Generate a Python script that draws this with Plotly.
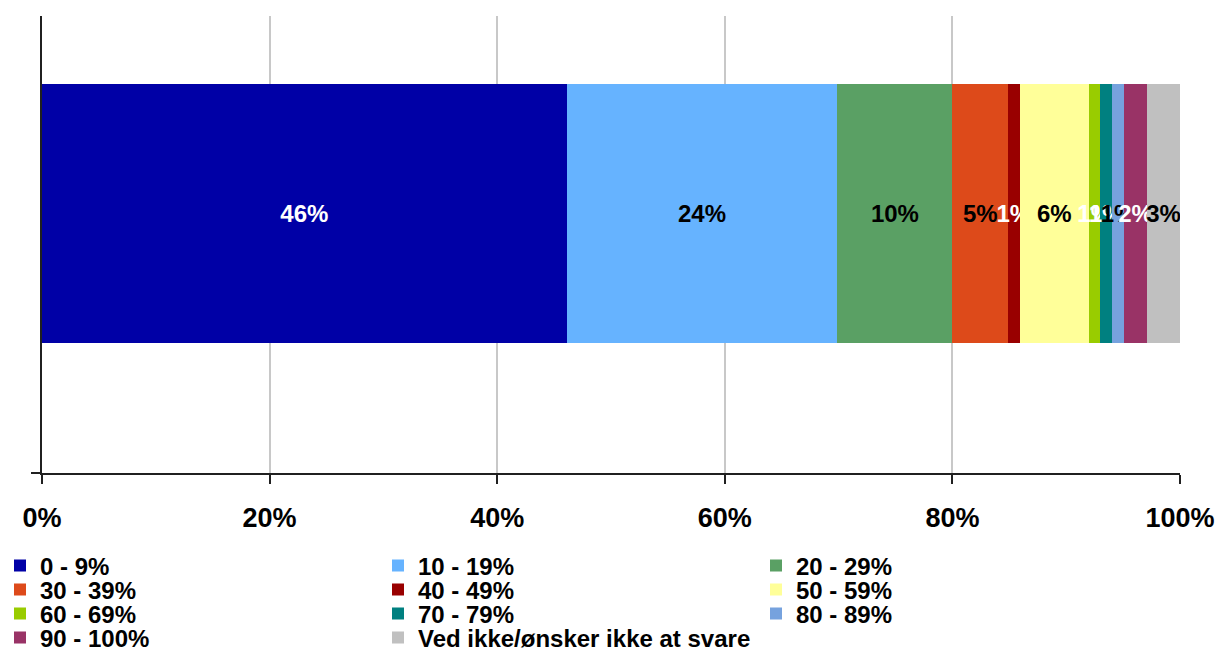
import plotly.graph_objects as go

categories = ["0 - 9%", "10 - 19%", "20 - 29%", "30 - 39%", "40 - 49%", "50 - 59%",
              "60 - 69%", "70 - 79%", "80 - 89%", "90 - 100%",
              "Ved ikke/ønsker ikke at svare"]
shares = [46.1, 23.8, 10.1, 4.9, 1.0, 6.1, 1.0, 1.0, 1.1, 2.0, 2.9]
colors = ["#0000A6", "#66B3FF", "#5AA064", "#DD4A1A", "#990000", "#FFFF99",
          "#99CC00", "#008080", "#76A2DE", "#993366", "#C0C0C0"]
label_colors = ["white", "black", "black", "black", "white", "black",
                "white", "white", "black", "white", "black"]
tick_values = [0, 20, 40, 60, 80, 100]
tick_labels = ["0%", "20%", "40%", "60%", "80%", "100%"]

FONT = "Liberation Sans, Arial, sans-serif"
W, H = 1219, 651

# legend rows: 3 entries per row, one legend object per row
legend_ids = ["legend", "legend2", "legend3", "legend4"]
row_centers = [566, 590, 614, 638]

fig = go.Figure()
for i, (name, val) in enumerate(zip(categories, shares)):
    fig.add_trace(go.Bar(
        x=[val], y=[0], name=name, orientation="h", width=0.6,
        marker=dict(color=colors[i], line=dict(width=0)),
        text=[f"{val:.0f}%"], textposition="inside", insidetextanchor="middle",
        textangle=0, constraintext="none",
        textfont=dict(family=FONT, size=24, color=label_colors[i], weight="bold"),
        legend=legend_ids[i // 3],
        hoverinfo="skip",
    ))

legend_layout = {}
for k, lid in enumerate(legend_ids):
    legend_layout[lid] = dict(
        orientation="h", xref="container", yref="container",
        x=0, xanchor="left", y=(H - row_centers[k]) / H, yanchor="middle",
        entrywidth=333, entrywidthmode="pixels", itemwidth=30,
        font=dict(family=FONT, size=24, color="black", weight="bold"),
        bgcolor="rgba(0,0,0,0)", traceorder="normal", itemclick=False,
    )

fig.update_layout(
    width=W, height=H,
    barmode="stack",
    plot_bgcolor="white", paper_bgcolor="white",
    margin=dict(l=42, r=39, t=16, b=178, autoexpand=False),
    showlegend=True,
    xaxis=dict(
        range=[0, 100], tickvals=tick_values, ticktext=tick_labels,
        showgrid=True, gridcolor="#C8C8C8", gridwidth=1.5,
        showline=True, linecolor="#202020", linewidth=1.5,
        ticks="outside", ticklen=9, tickwidth=1.5, tickcolor="#202020",
        ticklabelstandoff=11,
        tickfont=dict(family=FONT, size=27, color="black", weight="bold"),
        zeroline=False, fixedrange=True,
    ),
    yaxis=dict(
        range=[-0.6011, 0.4576], showticklabels=False, showgrid=False,
        zeroline=False, showline=True, linecolor="#202020", linewidth=1.5,
        tickvals=[-0.6011], ticks="outside", ticklen=9, tickwidth=1.5,
        tickcolor="#202020", fixedrange=True,
    ),
    **legend_layout,
)

# drop the browser's default 8px body margin so the figure fills the window
fig.write_html("out.html", config={"displayModeBar": False},
               post_script="document.body.style.margin = '0';")
